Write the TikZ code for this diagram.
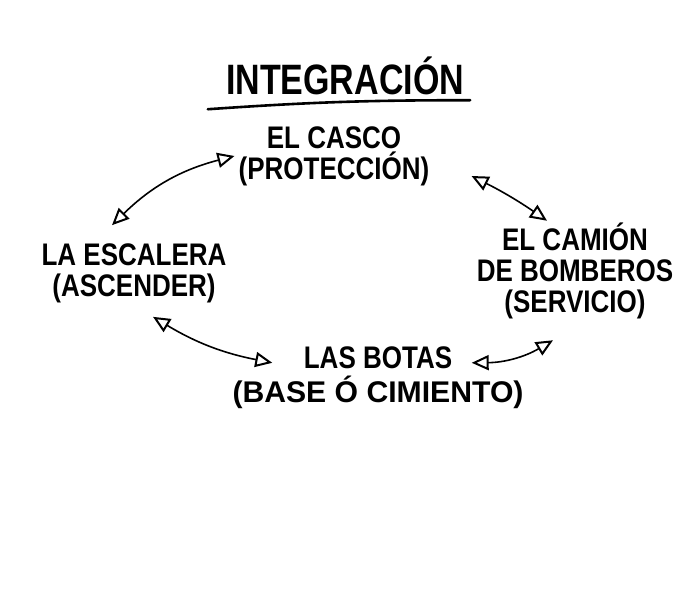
\documentclass[tikz,border=0pt]{standalone}
\usepackage{fontspec}
\setmainfont{Liberation Sans}
\usetikzlibrary{arrows.meta}

\newcommand\alto[1]{\scalebox{1}[1.2]{#1}}

\tikzset{
  label/.style={align=center, inner sep=0pt, font=\fontsize{26}{31}\bfseries},
  link/.style={line width=1.6pt, {Triangle[open,length=17pt,width=15pt,line width=2pt]}-{Triangle[open,length=17pt,width=15pt,line width=2pt]}}
}

\begin{document}
\begin{tikzpicture}[x=1pt,y=-1pt]
\fill[white] (0,0) rectangle (694,596);
\useasboundingbox (0,0) rectangle (694,596);

% title
\node[inner sep=0pt, font=\fontsize{34}{38}\bfseries] (titulo) at (345,76) {\scalebox{1}[1.25]{INTEGRACIÓN}};
\draw[line width=2.6pt, line cap=round] ([shift={(-18,14)}]titulo.south west) to[bend left=2] ([shift={(6,5)}]titulo.south east);

% the four parts
\node[label] (casco) at (334,156) {\alto{EL CASCO}\\\alto{(PROTECCIÓN)}};
\node[label] (escalera) at (134,273) {\alto{LA ESCALERA}\\\alto{(ASCENDER)}};
\node[label] (camion) at (575,271) {\alto{EL CAMIÓN}\\\alto{DE BOMBEROS}\\\alto{(SERVICIO)}};
\node[label] (botas) at (378,378) {\alto{LAS BOTAS}\\[3pt]\scalebox{1.16}[1.15]{(BASE Ó CIMIENTO)}};

% connections
\draw[link] ([xshift=-4pt]casco.west) to[bend right=15] ([shift={(-22,-18)}]escalera.north);
\draw[link] ([shift={(42,20)}]casco.east) to[bend left=4] ([shift={(-28,-2)}]camion.north);
\draw[link] ([shift={(-22,21)}]camion.south) to[bend left=15] ([shift={(-52,16)}]botas.north east);
\draw[link] ([shift={(40,16)}]botas.north west) to[bend left=10] ([shift={(19,14)}]escalera.south);
\end{tikzpicture}
\end{document}
